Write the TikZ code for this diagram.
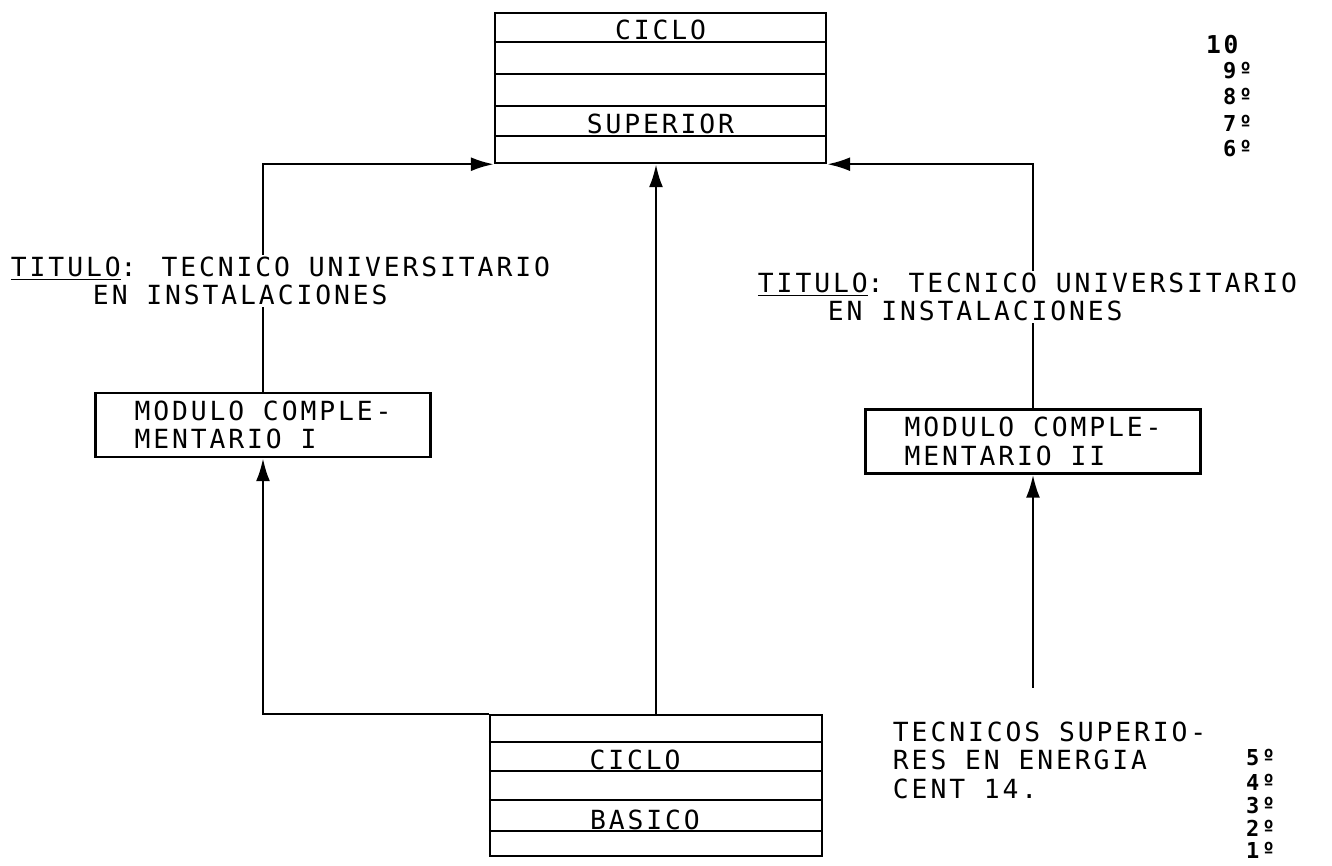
\documentclass[tikz,border=0pt]{standalone}
\usepackage{fontspec}
\newfontfamily\dotfont[LetterSpace=11]{DejaVu Sans Mono}
\usetikzlibrary{arrows.meta,positioning}

\begin{document}
\begin{tikzpicture}[
    ciclobox/.style={
      draw,
      minimum width=6.62cm,
      minimum height=3cm,
      inner sep=0pt
    },
    modbox/.style={
      draw,
      minimum width=6.7cm,
      minimum height=1.28cm,
      align=left,
      font=\dotfont\fontsize{15pt}{16.2pt}\selectfont
    },
    txt/.style={font=\dotfont\fontsize{15pt}{16.2pt}\selectfont, align=left, inner sep=1pt},
    titulo/.style={txt, fill=white},
    grade/.style={font=\dotfont\bfseries\fontsize{12.5pt}{13pt}\selectfont, anchor=west, inner sep=0pt},
    row/.style={line width=1.1pt},
    >={Latex[length=4.6mm,width=2.8mm]},
    line width=1.4pt
  ]
    \useasboundingbox (0,0) rectangle (26.64,17.32);

    % ciclo superior
    \node[ciclobox] (sup) at (13.21,15.56) {};
    \draw[row] ([yshift=-0.6cm]sup.north west) -- ([yshift=-0.6cm]sup.north east);
    \draw[row] ([yshift=-1.24cm]sup.north west) -- ([yshift=-1.24cm]sup.north east);
    \draw[row] ([yshift=-1.88cm]sup.north west) -- ([yshift=-1.88cm]sup.north east);
    \draw[row] ([yshift=-2.48cm]sup.north west) -- ([yshift=-2.48cm]sup.north east);
    \node[txt, anchor=base] (supA) at (13.21,16.52) {CICLO};
    \node[txt, anchor=base] (supB) at (13.21,14.64) {SUPERIOR};

    % ciclo basico
    \node[ciclobox, minimum width=6.64cm, minimum height=2.82cm] (bas) at (13.12,1.61) {};
    \draw[row] ([yshift=-0.56cm]bas.north west) -- ([yshift=-0.56cm]bas.north east);
    \draw[row] ([yshift=-1.14cm]bas.north west) -- ([yshift=-1.14cm]bas.north east);
    \draw[row] ([yshift=-1.72cm]bas.north west) -- ([yshift=-1.72cm]bas.north east);
    \draw[row] ([yshift=-2.34cm]bas.north west) -- ([yshift=-2.34cm]bas.north east);
    \node[txt, anchor=base] (basA) at (12.7,1.92) {CICLO};
    \node[txt, anchor=base] (basB) at (12.9,0.72) {BASICO};

    % modulos
    \node[modbox] (modI) at (5.26,8.82) {MODULO COMPLE-\\MENTARIO I};
    \node[modbox] (modII) at (20.66,8.49) {MODULO COMPLE-\\MENTARIO II};

    \coordinate (tecTop) at (20.66,3.56);

    \draw[->] (bas.north) -- (bas.north |- sup.south);
    \draw[->] (bas.north west) -| (modI.south);
    \draw[->] (modI.north) |- (sup.south west);
    \draw[->] (modII.north) |- (sup.south east);
    \draw[->] (tecTop) -- (modII.south);

    % titulos
    \node[titulo, anchor=west] (titI) at (0.16,11.70) {\underline{TITULO}: TECNICO UNIVERSITARIO\\\hspace*{1.64cm}EN INSTALACIONES};
    \node[titulo, anchor=west] (titII) at (15.1,11.38) {\underline{TITULO}: TECNICO UNIVERSITARIO\\\hspace*{1.4cm}EN INSTALACIONES};
    \node[txt, anchor=west] (tec) at (17.8,2.12) {TECNICOS SUPERIO-\\RES EN ENERGIA\\CENT 14.};

    % cursos
    \node[grade, font=\dotfont\bfseries\fontsize{14pt}{14pt}\selectfont] (g10) at (24.1,16.42) {10};
    \node[grade] (g9) at (24.44,15.90) {9º};
    \node[grade] (g8) at (24.44,15.38) {8º};
    \node[grade] (g7) at (24.44,14.86) {7º};
    \node[grade] (g6) at (24.44,14.34) {6º};
    \node[grade] (g5) at (24.9,2.16) {5º};
    \node[grade] (g4) at (24.9,1.68) {4º};
    \node[grade] (g3) at (24.9,1.2) {3º};
    \node[grade] (g2) at (24.9,0.76) {2º};
    \node[grade] (g1) at (24.9,0.32) {1º};
  \end{tikzpicture}
\end{document}
